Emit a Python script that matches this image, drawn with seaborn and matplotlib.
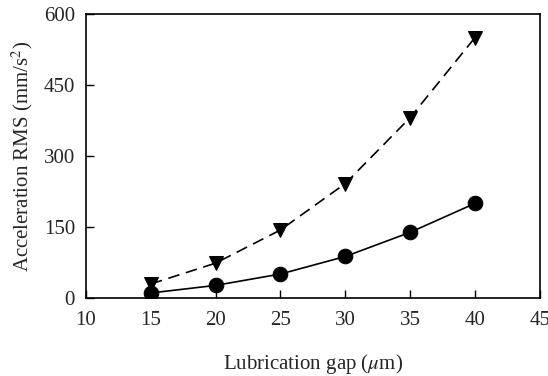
import pandas as pd
import matplotlib
matplotlib.use("Agg")
import matplotlib.pyplot as plt
import seaborn as sns

# Data
gap_um = [15, 20, 25, 30, 35, 40]
rms_circle = [11, 27, 51, 88, 139, 200]
rms_triangle = [30, 74, 144, 242, 381, 550]

df = pd.DataFrame({
    "gap": gap_um * 2,
    "rms": rms_circle + rms_triangle,
    "series": ["circle"] * len(gap_um) + ["triangle"] * len(gap_um),
})

sns.set_theme(style="ticks")
plt.rcParams["font.family"] = ["Liberation Serif", "DejaVu Serif"]
plt.rcParams["mathtext.fontset"] = "stix"

fig = plt.figure(figsize=(5.48, 3.76), dpi=100)
ax = fig.add_axes([0.157, 0.207, 0.828, 0.756])

sns.lineplot(data=df, x="gap", y="rms", style="series",
             markers={"circle": "o", "triangle": "v"},
             dashes={"circle": "", "triangle": (7, 4)},
             color="black", markersize=10.5, linewidth=1.2,
             markeredgecolor="black", legend=False, ax=ax)

ax.set_xlim(10, 45)
ax.set_ylim(0, 600)
ax.set_xticks([10, 15, 20, 25, 30, 35, 40, 45])
ax.set_yticks([0, 150, 300, 450, 600])
ax.tick_params(direction="in", length=6, width=1, labelsize=15, color="black",
               top=False, right=False)
ax.tick_params(axis="x", pad=9)
ax.tick_params(axis="y", pad=8)
for s in ax.spines.values():
    s.set_linewidth(1.2)
    s.set_color("black")

ax.set_xlabel(r"Lubrication gap ($\mu$m)", fontsize=15, labelpad=16)
ax.set_ylabel(r"Acceleration RMS (mm/s$^2$)", fontsize=15, labelpad=6)

fig.savefig("out.png", dpi=100)
